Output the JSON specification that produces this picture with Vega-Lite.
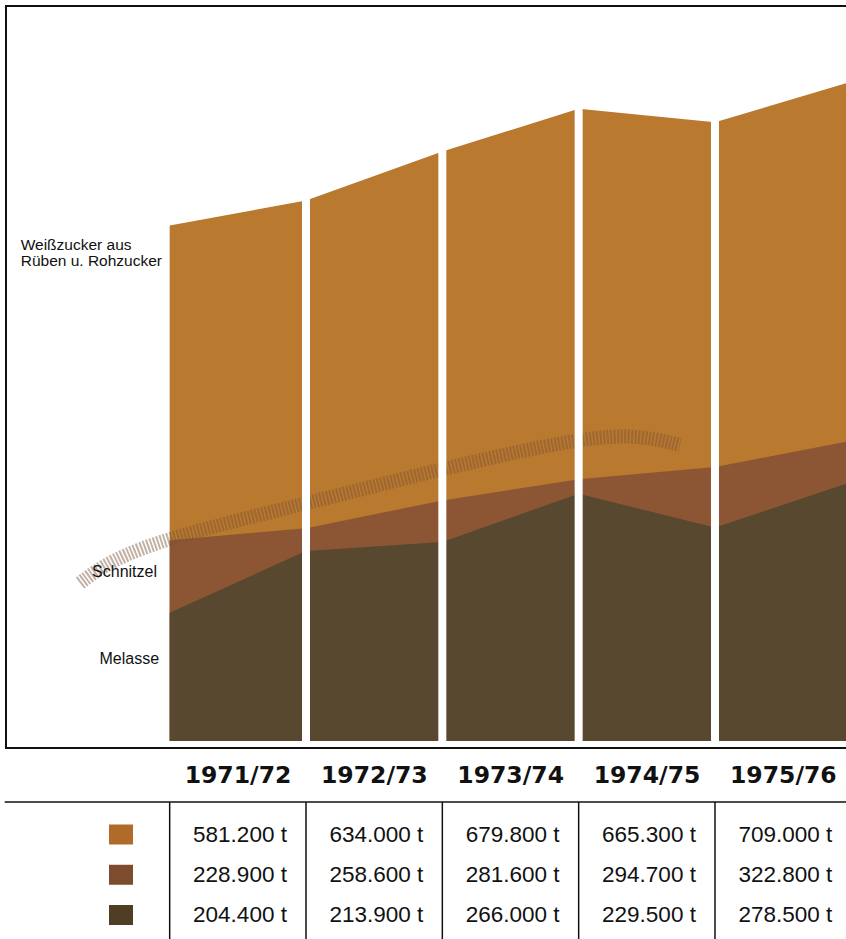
{
  "$schema": "https://vega.github.io/schema/vega-lite/v6.json",
  "width": 846,
  "height": 939,
  "autosize": {"type": "none"},
  "padding": 0,
  "background": "white",
  "config": {
    "view": {"stroke": null},
    "locale": {"number": {"decimal": ".", "thousands": ",", "grouping": [3], "currency": ["", " t"]}}
  },
  "datasets": {
    "flow": [
      {"season": "1970/71", "i": 0, "series": "Weißzucker", "value": 554.3},
      {"season": "1970/71", "i": 0, "series": "Schnitzel", "value": 216.0},
      {"season": "1970/71", "i": 0, "series": "Melasse", "value": 137.8},
      {"season": "1971/72", "i": 1, "series": "Weißzucker", "value": 581.2},
      {"season": "1971/72", "i": 1, "series": "Schnitzel", "value": 228.9},
      {"season": "1971/72", "i": 1, "series": "Melasse", "value": 204.4},
      {"season": "1972/73", "i": 2, "series": "Weißzucker", "value": 634.0},
      {"season": "1972/73", "i": 2, "series": "Schnitzel", "value": 258.6},
      {"season": "1972/73", "i": 2, "series": "Melasse", "value": 213.9},
      {"season": "1973/74", "i": 3, "series": "Weißzucker", "value": 679.8},
      {"season": "1973/74", "i": 3, "series": "Schnitzel", "value": 281.6},
      {"season": "1973/74", "i": 3, "series": "Melasse", "value": 266.0},
      {"season": "1974/75", "i": 4, "series": "Weißzucker", "value": 665.3},
      {"season": "1974/75", "i": 4, "series": "Schnitzel", "value": 294.7},
      {"season": "1974/75", "i": 4, "series": "Melasse", "value": 229.5},
      {"season": "1975/76", "i": 5, "series": "Weißzucker", "value": 709.0},
      {"season": "1975/76", "i": 5, "series": "Schnitzel", "value": 322.8},
      {"season": "1975/76", "i": 5, "series": "Melasse", "value": 278.5}
    ],
    "streak": [
      {"i": -0.658, "value": 169.9},
      {"i": -0.438, "value": 194.0},
      {"i": 0.002, "value": 219.4},
      {"i": 0.956, "value": 253.8},
      {"i": 1.616, "value": 278.5},
      {"i": 2.276, "value": 302.2},
      {"i": 2.885, "value": 321.5},
      {"i": 3.377, "value": 331.2},
      {"i": 3.743, "value": 318.3}
    ],
    "one": [{}]
  },
  "layer": [
    {
      "data": {"name": "flow"},
      "layer": [
        {
          "transform": [{"filter": "datum.series == 'Weißzucker'"}],
          "mark": {"type": "area", "color": "#B9792F", "opacity": 1},
          "encoding": {
            "x": {"field": "i", "type": "quantitative", "scale": {"domain": [-1.2446, 4.961], "nice": false, "zero": false}, "axis": null},
            "y": {"field": "value", "type": "quantitative", "scale": {"domain": [-212.9, 796.8], "nice": false, "zero": false}, "axis": null},
            "y2": {"datum": 0}
          }
        },
        {
          "transform": [{"filter": "datum.series == 'Schnitzel'"}],
          "mark": {"type": "area", "color": "#8C5634", "opacity": 1},
          "encoding": {
            "x": {"field": "i", "type": "quantitative", "scale": {"domain": [-1.2446, 4.961], "nice": false, "zero": false}, "axis": null},
            "y": {"field": "value", "type": "quantitative", "scale": {"domain": [-212.9, 796.8], "nice": false, "zero": false}, "axis": null},
            "y2": {"datum": 0}
          }
        },
        {
          "transform": [{"filter": "datum.series == 'Melasse'"}],
          "mark": {"type": "area", "color": "#58482F", "opacity": 1},
          "encoding": {
            "x": {"field": "i", "type": "quantitative", "scale": {"domain": [-1.2446, 4.961], "nice": false, "zero": false}, "axis": null},
            "y": {"field": "value", "type": "quantitative", "scale": {"domain": [-212.9, 796.8], "nice": false, "zero": false}, "axis": null},
            "y2": {"datum": 0}
          }
        },
        {
          "data": {"name": "streak"},
          "mark": {"type": "line", "color": "#7A5238", "opacity": 0.45, "strokeWidth": 14, "strokeDash": [2, 1.5], "strokeJoin": "round", "interpolate": "basis"},
          "encoding": {
            "x": {"field": "i", "type": "quantitative", "scale": {"domain": [-1.2446, 4.961], "nice": false, "zero": false}, "axis": null},
            "y": {"field": "value", "type": "quantitative", "scale": {"domain": [-212.9, 796.8], "nice": false, "zero": false}, "axis": null}
          }
        },
        {
          "transform": [{"filter": "datum.series == 'Melasse' && datum.i >= 1 && datum.i <= 4"}],
          "mark": {"type": "rule", "color": "white", "strokeWidth": 8},
          "encoding": {
            "x": {"field": "i", "type": "quantitative", "scale": {"domain": [-1.2446, 4.961], "nice": false, "zero": false}, "axis": null},
            "y": {"datum": -2, "scale": {"domain": [-212.9, 796.8], "nice": false, "zero": false}, "axis": null},
            "y2": {"datum": 700}
          }
        },
        {
          "data": {"name": "one"},
          "mark": {"type": "rect", "fillOpacity": 0, "stroke": "#111111", "strokeWidth": 2},
          "encoding": {
            "x": {"datum": -1.2006, "type": "quantitative", "scale": {"domain": [-1.2446, 4.961], "nice": false, "zero": false}, "axis": null},
            "x2": {"datum": 6},
            "y": {"datum": -7.5, "type": "quantitative", "scale": {"domain": [-212.9, 796.8], "nice": false, "zero": false}, "axis": null},
            "y2": {"datum": 790.3}
          }
        },
        {
          "data": {"name": "one"},
          "mark": {"type": "rule", "color": "#111111", "strokeWidth": 1.5},
          "encoding": {
            "x": {"datum": -1.21, "type": "quantitative", "scale": {"domain": [-1.2446, 4.961], "nice": false, "zero": false}, "axis": null},
            "x2": {"datum": 6},
            "y": {"datum": -65.6, "type": "quantitative", "scale": {"domain": [-212.9, 796.8], "nice": false, "zero": false}, "axis": null}
          }
        },
        {
          "transform": [{"filter": "datum.series == 'Melasse' && datum.i <= 4"}],
          "mark": {"type": "rule", "color": "#111111", "strokeWidth": 1.5},
          "encoding": {
            "x": {"field": "i", "type": "quantitative", "scale": {"domain": [-1.2446, 4.961], "nice": false, "zero": false}, "axis": null},
            "y": {"datum": -65.6, "type": "quantitative", "scale": {"domain": [-212.9, 796.8], "nice": false, "zero": false}, "axis": null},
            "y2": {"datum": -212.9}
          }
        },
        {
          "transform": [{"filter": "datum.series == 'Melasse' && datum.i >= 1"}],
          "mark": {"type": "text", "font": "DejaVu Sans", "fontWeight": "bold", "fontSize": 23.5, "align": "center", "baseline": "middle", "dx": -68, "color": "#111111"},
          "encoding": {
            "x": {"field": "i", "type": "quantitative", "scale": {"domain": [-1.2446, 4.961], "nice": false, "zero": false}, "axis": null},
            "y": {"datum": -37.6, "type": "quantitative", "scale": {"domain": [-212.9, 796.8], "nice": false, "zero": false}, "axis": null},
            "text": {"field": "season"}
          }
        },
        {
          "data": {"name": "one"},
          "mark": {"type": "text", "text": ["Weißzucker aus", "Rüben u. Rohzucker"], "lineHeight": 16.5, "font": "Liberation Sans", "fontSize": 15.5, "align": "left", "baseline": "alphabetic", "color": "#111111"},
          "encoding": {
            "x": {"datum": -1.0927, "type": "quantitative", "scale": {"domain": [-1.2446, 4.961], "nice": false, "zero": false}, "axis": null},
            "y": {"datum": 528.0, "type": "quantitative", "scale": {"domain": [-212.9, 796.8], "nice": false, "zero": false}, "axis": null}
          }
        },
        {
          "data": {"name": "one"},
          "mark": {"type": "text", "text": "Schnitzel", "font": "Liberation Sans", "fontSize": 16, "align": "right", "baseline": "alphabetic", "color": "#111111"},
          "encoding": {
            "x": {"datum": -0.093, "type": "quantitative", "scale": {"domain": [-1.2446, 4.961], "nice": false, "zero": false}, "axis": null},
            "y": {"datum": 176.4, "type": "quantitative", "scale": {"domain": [-212.9, 796.8], "nice": false, "zero": false}, "axis": null}
          }
        },
        {
          "data": {"name": "one"},
          "mark": {"type": "text", "text": "Melasse", "font": "Liberation Sans", "fontSize": 16, "align": "right", "baseline": "alphabetic", "color": "#111111"},
          "encoding": {
            "x": {"datum": -0.078, "type": "quantitative", "scale": {"domain": [-1.2446, 4.961], "nice": false, "zero": false}, "axis": null},
            "y": {"datum": 82.8, "type": "quantitative", "scale": {"domain": [-212.9, 796.8], "nice": false, "zero": false}, "axis": null}
          }
        }
      ]
    },
    {
      "data": {"name": "flow"},
      "transform": [{"filter": "datum.i >= 1"}],
      "layer": [
        {
          "mark": {"type": "text", "font": "Liberation Sans", "fontSize": 22.5, "align": "center", "baseline": "middle", "dx": -66, "color": "#111111"},
          "encoding": {
            "x": {"field": "i", "type": "quantitative", "scale": {"domain": [-1.2446, 4.961], "nice": false, "zero": false}, "axis": null},
            "y": {"field": "series", "type": "ordinal", "scale": {"type": "point", "domain": ["Weißzucker", "Schnitzel", "Melasse"], "range": [834.5, 915], "padding": 0}, "axis": null},
            "text": {"field": "value", "type": "quantitative", "format": "$.3f"}
          }
        },
        {
          "transform": [{"filter": "datum.i == 1"}],
          "mark": {"type": "point", "shape": "M-1.2,-1H1.2V1H-1.2Z", "filled": true, "size": 400, "opacity": 1},
          "encoding": {
            "x": {"datum": -0.357, "type": "quantitative", "scale": {"domain": [-1.2446, 4.961], "nice": false, "zero": false}, "axis": null},
            "y": {"field": "series", "type": "ordinal", "scale": {"type": "point", "domain": ["Weißzucker", "Schnitzel", "Melasse"], "range": [834.5, 915], "padding": 0}, "axis": null},
            "color": {"field": "series", "type": "nominal", "scale": {"domain": ["Weißzucker", "Schnitzel", "Melasse"], "range": ["#B06A2A", "#7D4B2D", "#4F3D24"]}, "legend": null}
          }
        }
      ]
    }
  ],
  "resolve": {"scale": {"y": "independent"}}
}
